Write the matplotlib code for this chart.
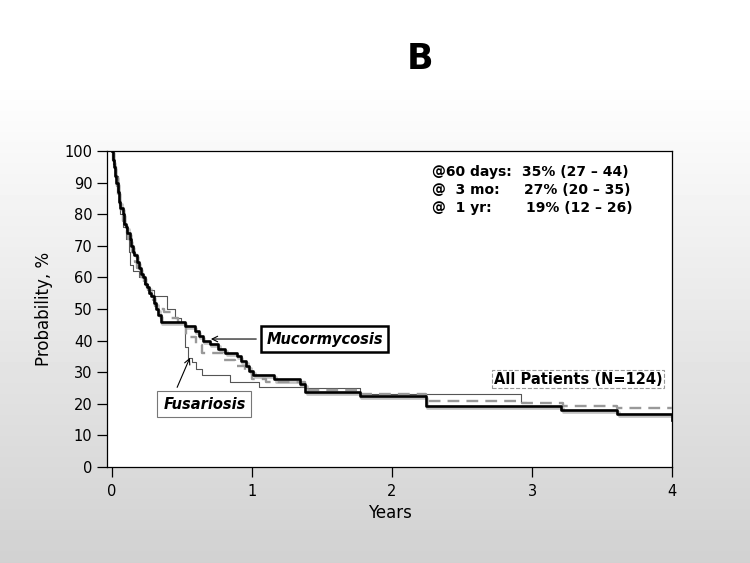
import numpy as np
import matplotlib
matplotlib.use("Agg")
import matplotlib.pyplot as plt
import matplotlib.patheffects as pe

plt.rcParams["font.family"] = ["DejaVu Sans"]

# Kaplan-Meier style step curves (years, probability %)
muc_t = [0, 0.005, 0.012, 0.02, 0.03, 0.04, 0.05, 0.06, 0.075, 0.085,
         0.1, 0.11, 0.125, 0.135, 0.15, 0.16, 0.175, 0.19, 0.205, 0.22,
         0.235, 0.25, 0.265, 0.28, 0.3, 0.315, 0.33, 0.35, 0.52, 0.59,
         0.62, 0.65, 0.7, 0.76, 0.81, 0.89, 0.92, 0.96, 0.98, 1.01,
         1.16, 1.34, 1.38, 1.77, 2.24, 3.21, 3.61, 4.0]
muc_p = [100, 97, 95, 92, 90, 87, 84, 82, 80, 77,
         76, 74, 72, 70, 68, 67, 65, 63, 61, 60,
         58, 57, 55, 54, 52, 50, 48, 46, 44.5, 43,
         41.5, 40, 39, 37.5, 36, 35, 33.5, 32, 30.5, 29,
         27.7, 26.3, 23.8, 22.5, 19.3, 18, 16.7, 15]

fus_t = [0, 0.01, 0.02, 0.045, 0.05, 0.06, 0.08, 0.1, 0.12, 0.13,
         0.15, 0.19, 0.23, 0.26, 0.3, 0.39, 0.45, 0.49, 0.52, 0.545,
         0.57, 0.6, 0.64, 0.84, 1.05, 1.38, 1.77, 2.92, 2.96]
fus_p = [100, 96, 92, 89, 84, 80, 76, 72, 68, 64,
         62, 60, 58, 56, 54, 50, 47, 46, 38, 34.5,
         33.3, 31, 29, 27, 25.4, 25, 23, 20.5, 20.5]

all_t = [0, 0.008, 0.015, 0.025, 0.035, 0.045, 0.055, 0.065, 0.08, 0.09,
         0.105, 0.115, 0.13, 0.14, 0.155, 0.165, 0.18, 0.195, 0.21, 0.225,
         0.24, 0.255, 0.27, 0.29, 0.31, 0.34, 0.37, 0.42, 0.47, 0.53,
         0.6, 0.64, 0.8, 0.88, 0.95, 1.0, 1.1, 1.38, 1.77, 2.24,
         2.93, 3.22, 3.61, 4.0]
all_p = [100, 97, 95, 92, 89, 86, 83, 81, 78, 76,
         74, 72, 70, 68, 67, 65, 63, 61, 60, 58,
         57, 56, 54, 53, 51, 50, 49, 47, 46, 41,
         38.5, 36, 34, 32, 30, 28, 27, 24.4, 23, 21,
         20.3, 19.4, 18.8, 18.8]

stat_labels = ["@60 days:", "@  3 mo:", "@  1 yr:"]
stat_values = ["35% (27 \u2013 44)", "27% (20 \u2013 35)", "19% (12 \u2013 26)"]

fig = plt.figure(figsize=(7.5, 5.63), dpi=100)

# slide-like gradient background
bg = fig.add_axes([0, 0, 1, 1], zorder=-10)
rows = np.linspace(0, 1, 563)
shade = np.clip((rows - 0.14) / 0.86, 0, 1)
grad = 1.0 - 0.18 * shade
bg.imshow(np.tile(grad[:, None], (1, 10)), cmap="gray", vmin=0, vmax=1,
          aspect="auto", extent=[0, 1, 0, 1])
bg.axis("off")

fig.text(0.56, 0.895, "B", fontsize=25, fontweight="bold",
         ha="center", va="center")

ax = fig.add_axes([0.1427, 0.1705, 0.7533, 0.5613])
ax.set_facecolor("white")

ax.step(fus_t, fus_p, where="post", color="#555555", lw=0.8, zorder=3)
ax.step(all_t, all_p, where="post", color="#999999", lw=1.7,
        dashes=(5, 3), zorder=4)
ax.step(muc_t, muc_p, where="post", color="black", lw=1.9, zorder=5,
        path_effects=[pe.SimpleLineShadow(offset=(1, -1.5), shadow_color="#999999", alpha=0.6),
                      pe.Normal()])

ax.set_xlim(-0.036, 4.0)
ax.set_ylim(0, 100)
ax.set_xticks([0, 1, 2, 3, 4])
ax.set_yticks(range(0, 101, 10))
ax.tick_params(axis="both", direction="out", length=7, width=0.9,
               labelsize=10.5, colors="black")
ax.tick_params(axis="x", pad=5)
for s in ax.spines.values():
    s.set_linewidth(0.9)

ax.set_xlabel("Years", fontsize=12, labelpad=4)
ax.set_ylabel("Probability, %", fontsize=12, labelpad=8)

# stats block
for i, (lab, val) in enumerate(zip(stat_labels, stat_values)):
    y = 93.4 - 5.7 * i
    ax.text(2.286, y, lab, fontsize=10, fontweight="bold", va="center", ha="left")
    ax.text(2.93 + 0.015 * i, y, val, fontsize=10, fontweight="bold",
            va="center", ha="left")

# Mucormycosis label + arrow
ax.annotate("", xy=(0.686, 40.5), xytext=(1.05, 40.5),
            arrowprops=dict(arrowstyle="->", color="black", lw=0.8))
ax.text(1.52, 40.5, "Mucormycosis", fontsize=10.5, fontweight="bold",
        fontstyle="italic", ha="center", va="center", zorder=6,
        bbox=dict(boxstyle="square,pad=0.35", fc="white", ec="black", lw=1.8))

# Fusariosis label + arrow
ax.annotate("", xy=(0.564, 35.4), xytext=(0.457, 24.4),
            arrowprops=dict(arrowstyle="->", color="black", lw=0.8))
ax.text(0.66, 19.9, "Fusariosis", fontsize=10.5, fontweight="bold",
        fontstyle="italic", ha="center", va="center", zorder=6,
        bbox=dict(boxstyle="square,pad=0.4", fc="white", ec="#777777", lw=0.8))

ax.text(3.33, 27.8, "All Patients (N=124)", fontsize=10.5, fontweight="bold",
        ha="center", va="center", zorder=6,
        bbox=dict(boxstyle="square,pad=0.12", fc="white", ec="#999999",
                  lw=0.8, ls="--"))

fig.savefig("out.png", dpi=100)
